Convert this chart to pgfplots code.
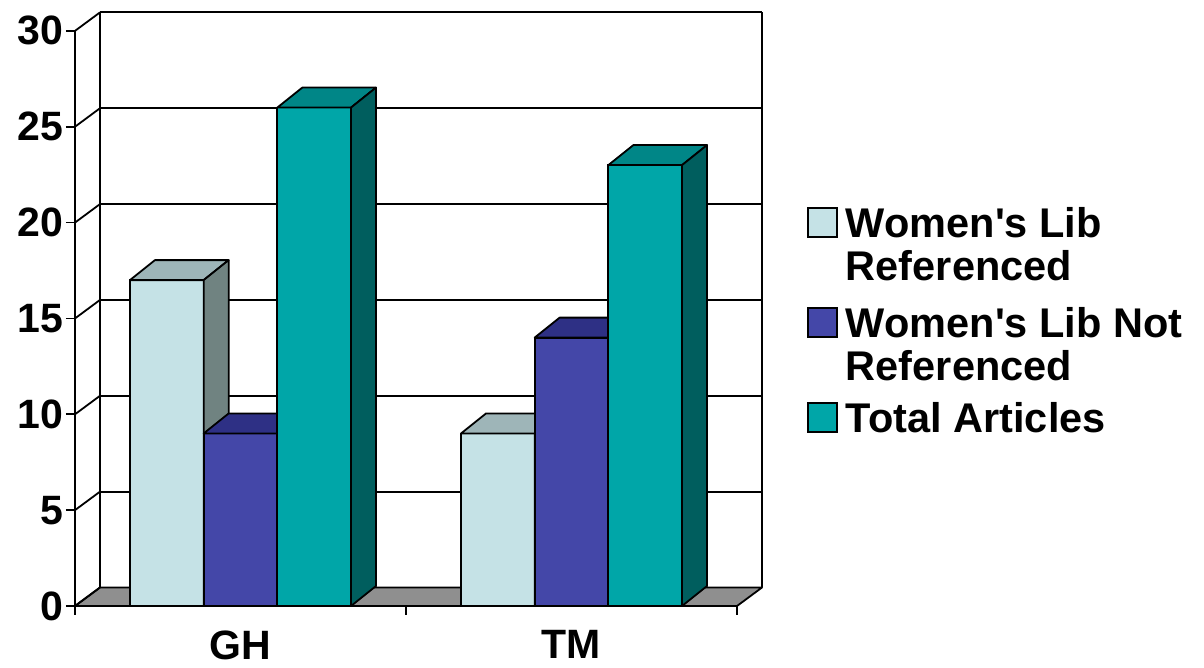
\documentclass[border=0pt]{standalone}
\usepackage{pgfplots}
\pgfplotsset{compat=1.18}
\usepackage{fontspec}
\newfontfamily\lib{Liberation Sans}
\definecolor{refF}{RGB}{197,226,230}
\definecolor{refT}{RGB}{158,181,184}
\definecolor{refS}{RGB}{112,131,129}
\definecolor{notF}{RGB}{68,71,168}
\definecolor{notT}{RGB}{46,48,133}
\definecolor{notS}{RGB}{34,36,100}
\definecolor{totF}{RGB}{0,166,168}
\definecolor{totT}{RGB}{0,134,135}
\definecolor{totS}{RGB}{0,94,94}
\definecolor{floorc}{RGB}{143,143,143}
\def\lw{1.8pt}
\def\bw{0.2226}
\def\dxb{0.0755}
\def\dyb{1.043}
\def\dxw{0.0755}
\def\dyw{0.965}
\def\xwr{2.0755}
% top and side faces of a bar: #1 centre x, #2 value, #3 top colour, #4 side colour
\newcommand\cubefaces[4]{%
  \pgfmathsetmacro\xL{#1-\bw/2}%
  \pgfmathsetmacro\xR{#1+\bw/2}%
  \pgfmathsetmacro\xLb{\xL+\dxb}%
  \pgfmathsetmacro\xRb{\xR+\dxb}%
  \pgfmathsetmacro\yT{#2+\dyb}%
  \addplot[fill=#3, draw=black, line width=\lw, line join=round, forget plot]
    coordinates {(\xL,#2) (\xLb,\yT) (\xRb,\yT) (\xR,#2)} -- cycle;
  \addplot[fill=#4, draw=black, line width=\lw, line join=round, forget plot]
    coordinates {(\xR,0) (\xRb,\dyb) (\xRb,\yT) (\xR,#2)} -- cycle;
}
\pgfplotsset{mylegend/.style={legend image code/.code={%
  \draw[##1,/tikz/.cd,line width=\lw] (0pt,0pt) rectangle (29pt,29pt);}}}
\begin{document}
\begin{tikzpicture}[x=1pt,y=1pt]
\path[use as bounding box] (0,0) rectangle (1204,668);
\begin{axis}[
  at={(75pt,62pt)}, anchor=south west,
  scale only axis, width=687pt, height=593.6pt,
  xmin=0, xmax=2.0755, ymin=0, ymax=30.965,
  clip=false,
  axis lines=left,
  axis line style={draw=none,-},
  ytick={0,5,10,15,20,25,30},
  xtick={0,1,2}, xticklabels={},
  extra x ticks={0.5,1.5},
  extra x tick labels={GH,TM},
  extra x tick style={major tick length=0pt, tick label style={yshift=-21pt}},
  yticklabel style={xshift=1pt},
  tick align=outside,
  major tick length=9pt,
  tick style={black, line width=\lw},
  /pgf/number format/assume math mode=true,
  tick label style={font=\fontsize{41}{46}\selectfont\lib\bfseries},
  every axis plot/.append style={mark=none},
  legend style={draw=none, fill=none, inner sep=0pt, outer sep=0pt,
    row sep=0pt, column sep=8pt,
    cells={anchor=base west},
    nodes={inner sep=0pt, text depth=},
    font=\fontsize{41.5}{43.5}\selectfont\lib\bfseries,
    at={(axis cs:2.2118,20.81)}, anchor=north west},
]
% floor
\addplot[fill=floorc, draw=black, line width=\lw, line join=round, forget plot]
  coordinates {(0,0) (2,0) (2.0755,0.965) (0.0755,0.965)} -- cycle;
% back wall gridlines and side wall diagonals
\pgfplotsinvokeforeach{5,10,15,20,25,30}{%
  \pgfmathsetmacro\yy{#1+\dyw}%
  \addplot[black, line width=\lw, forget plot] coordinates {(\dxw,\yy) (\xwr,\yy)};
}
\pgfplotsinvokeforeach{0,5,10,15,20,25,30}{%
  \pgfmathsetmacro\yy{#1+\dyw}%
  \addplot[black, line width=\lw, forget plot] coordinates {(0,#1) (\dxw,\yy)};
}
\addplot[black, line width=\lw, forget plot] coordinates {(0.0755,0.965) (0.0755,30.965)};
\addplot[black, line width=\lw, forget plot] coordinates {(2.0755,0.965) (2.0755,30.965)};
\addplot[black, line width=\lw, forget plot] coordinates {(0,0) (0,30)};
% series 1
\addplot[ybar, bar width=0.2226, bar shift=-0.2226, fill=refF, draw=black, line width=\lw, mylegend]
  coordinates {(0.5,17) (1.5,9)};
\addlegendentry{\raisebox{0pt}[30pt][70pt]{\begin{tabular}[t]{@{}l@{}}Women's Lib\\Referenced\end{tabular}}}
\cubefaces{0.2774}{17}{refT}{refS}
\cubefaces{1.2774}{9}{refT}{refS}
% series 2
\addplot[ybar, bar width=0.2226, bar shift=0, fill=notF, draw=black, line width=\lw, mylegend]
  coordinates {(0.5,9) (1.5,14)};
\addlegendentry{\raisebox{0pt}[30pt][65pt]{\begin{tabular}[t]{@{}l@{}}Women's Lib Not\\Referenced\end{tabular}}}
\cubefaces{0.5}{9}{notT}{notS}
\cubefaces{1.5}{14}{notT}{notS}
% series 3
\addplot[ybar, bar width=0.2226, bar shift=0.2226, fill=totF, draw=black, line width=\lw, mylegend]
  coordinates {(0.5,26) (1.5,23)};
\addlegendentry{\raisebox{0pt}[30pt][10pt]{Total Articles}}
\cubefaces{0.7226}{26}{totT}{totS}
\cubefaces{1.7226}{23}{totT}{totS}
% front x axis line
\addplot[black, line width=\lw, forget plot] coordinates {(0,0) (2,0)};
\end{axis}
\end{tikzpicture}
\end{document}
